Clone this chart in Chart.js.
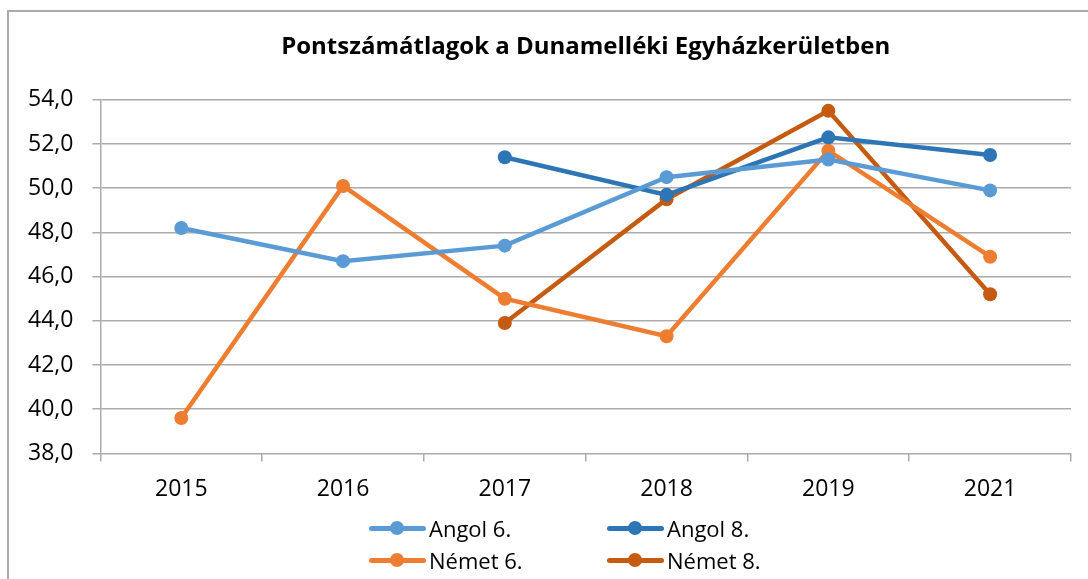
<!DOCTYPE html>
<html>
<head>
<meta charset="utf-8">
<script src="https://cdn.jsdelivr.net/npm/chart.js@4"></script>
<style>
    body { margin: 0; background: #fff; overflow: hidden; }
    #frame { position: absolute; left: 7px; top: 10px; width: 1200px; height: 700px; border: 2px solid #ababab; }
    #wrap { position: absolute; left: 0; top: 0; width: 1088px; height: 579px; }
    #legend { position: absolute; left: 369px; top: 512px; display: grid; grid-template-columns: 238px auto; grid-auto-rows: 32px;
              font-family: "Open Sans", sans-serif; font-size: 22px; color: #000; }
    .item { display: flex; align-items: center; }
    .sym { position: relative; width: 57px; height: 14px; margin-right: 3px; }
    .sym .ln { position: absolute; left: 0; right: 0; top: 5px; height: 5px; border-radius: 3px; }
    .sym .dot { position: absolute; left: 21px; top: 0; width: 14px; height: 14px; border-radius: 50%; }
</style>
</head>
<body>
<div id="frame"></div>
<div id="wrap">
    <canvas id="pontChart" width="1088" height="579"></canvas>
    <div id="legend"></div>
</div>
<script>
const years = ['2015', '2016', '2017', '2018', '2019', '2021'];
const angol6 = [48.2, 46.7, 47.4, 50.5, 51.3, 49.9];
const angol8 = [null, null, 51.4, 49.7, 52.3, 51.5];
const nemet6 = [39.6, 50.1, 45.0, 43.3, 51.7, 46.9];
const nemet8 = [null, null, 43.9, 49.5, 53.5, 45.2];
const seriesNames = ['Angol 6.', 'Angol 8.', 'Német 6.', 'Német 8.'];
const seriesColors = ['#5b9bd5', '#2e75b6', '#ed7d31', '#c55a11'];
const Y_MIN = 38;
const Y_MAX = 54;
const Y_STEP = 2;

const FONT = '"Open Sans", sans-serif';

function makeDataset(i, values){
    return {
        label: seriesNames[i],
        data: values,
        borderColor: seriesColors[i],
        backgroundColor: seriesColors[i],
        borderWidth: 4.5,
        pointRadius: 7,
        pointHoverRadius: 7,
        pointBorderWidth: 0,
        pointBackgroundColor: seriesColors[i],
        tension: 0,
        spanGaps: false
    };
}

// html legend, 2x2 like the excel one
const htmlLegend = {
    id: 'htmlLegend',
    afterUpdate(chart){
        const box = document.getElementById('legend');
        box.innerHTML = '';
        chart.data.datasets.forEach(ds => {
            const item = document.createElement('div');
            item.className = 'item';
            item.innerHTML = '<span class="sym"><span class="ln" style="background:' + ds.borderColor + '"></span>' +
                '<span class="dot" style="background:' + ds.borderColor + '"></span></span><span>' + ds.label + '</span>';
            box.appendChild(item);
        });
    }
};

const ctx = document.getElementById('pontChart').getContext('2d');
new Chart(ctx, {
    type: 'line',
    data: {
        labels: years,
        datasets: [
            makeDataset(0, angol6),
            makeDataset(1, angol8),
            makeDataset(2, nemet6),
            makeDataset(3, nemet8)
        ]
    },
    options: {
        responsive: false,
        animation: false,
        layout: { padding: { left: 9, right: 17, top: 0, bottom: 62 } },
        plugins: {
            legend: { display: false },
            tooltip: { enabled: false },
            title: {
                display: true,
                fullSize: false,
                text: 'Pontszámátlagok a Dunamelléki Egyházkerületben',
                color: '#000',
                font: { family: FONT, size: 24, weight: 'bold' },
                padding: { top: 33, bottom: 38 }
            }
        },
        scales: {
            x: {
                offset: true,
                grid: { offset: true, drawOnChartArea: false, drawTicks: true, tickLength: 8, color: '#ababab', lineWidth: 1.5 },
                border: { display: false },
                ticks: { color: '#000', font: { family: FONT, size: 23 }, padding: 14 }
            },
            y: {
                min: Y_MIN,
                max: Y_MAX,
                grid: { color: '#ababab', lineWidth: 1.5, tickLength: 8 },
                border: { color: '#ababab', width: 1.5 },
                ticks: {
                    stepSize: Y_STEP,
                    color: '#000',
                    font: { family: FONT, size: 23 },
                    padding: 19,
                    callback: v => v.toFixed(1).replace('.', ',')
                }
            }
        }
    },
    plugins: [htmlLegend]
});
</script>
</body>
</html>
